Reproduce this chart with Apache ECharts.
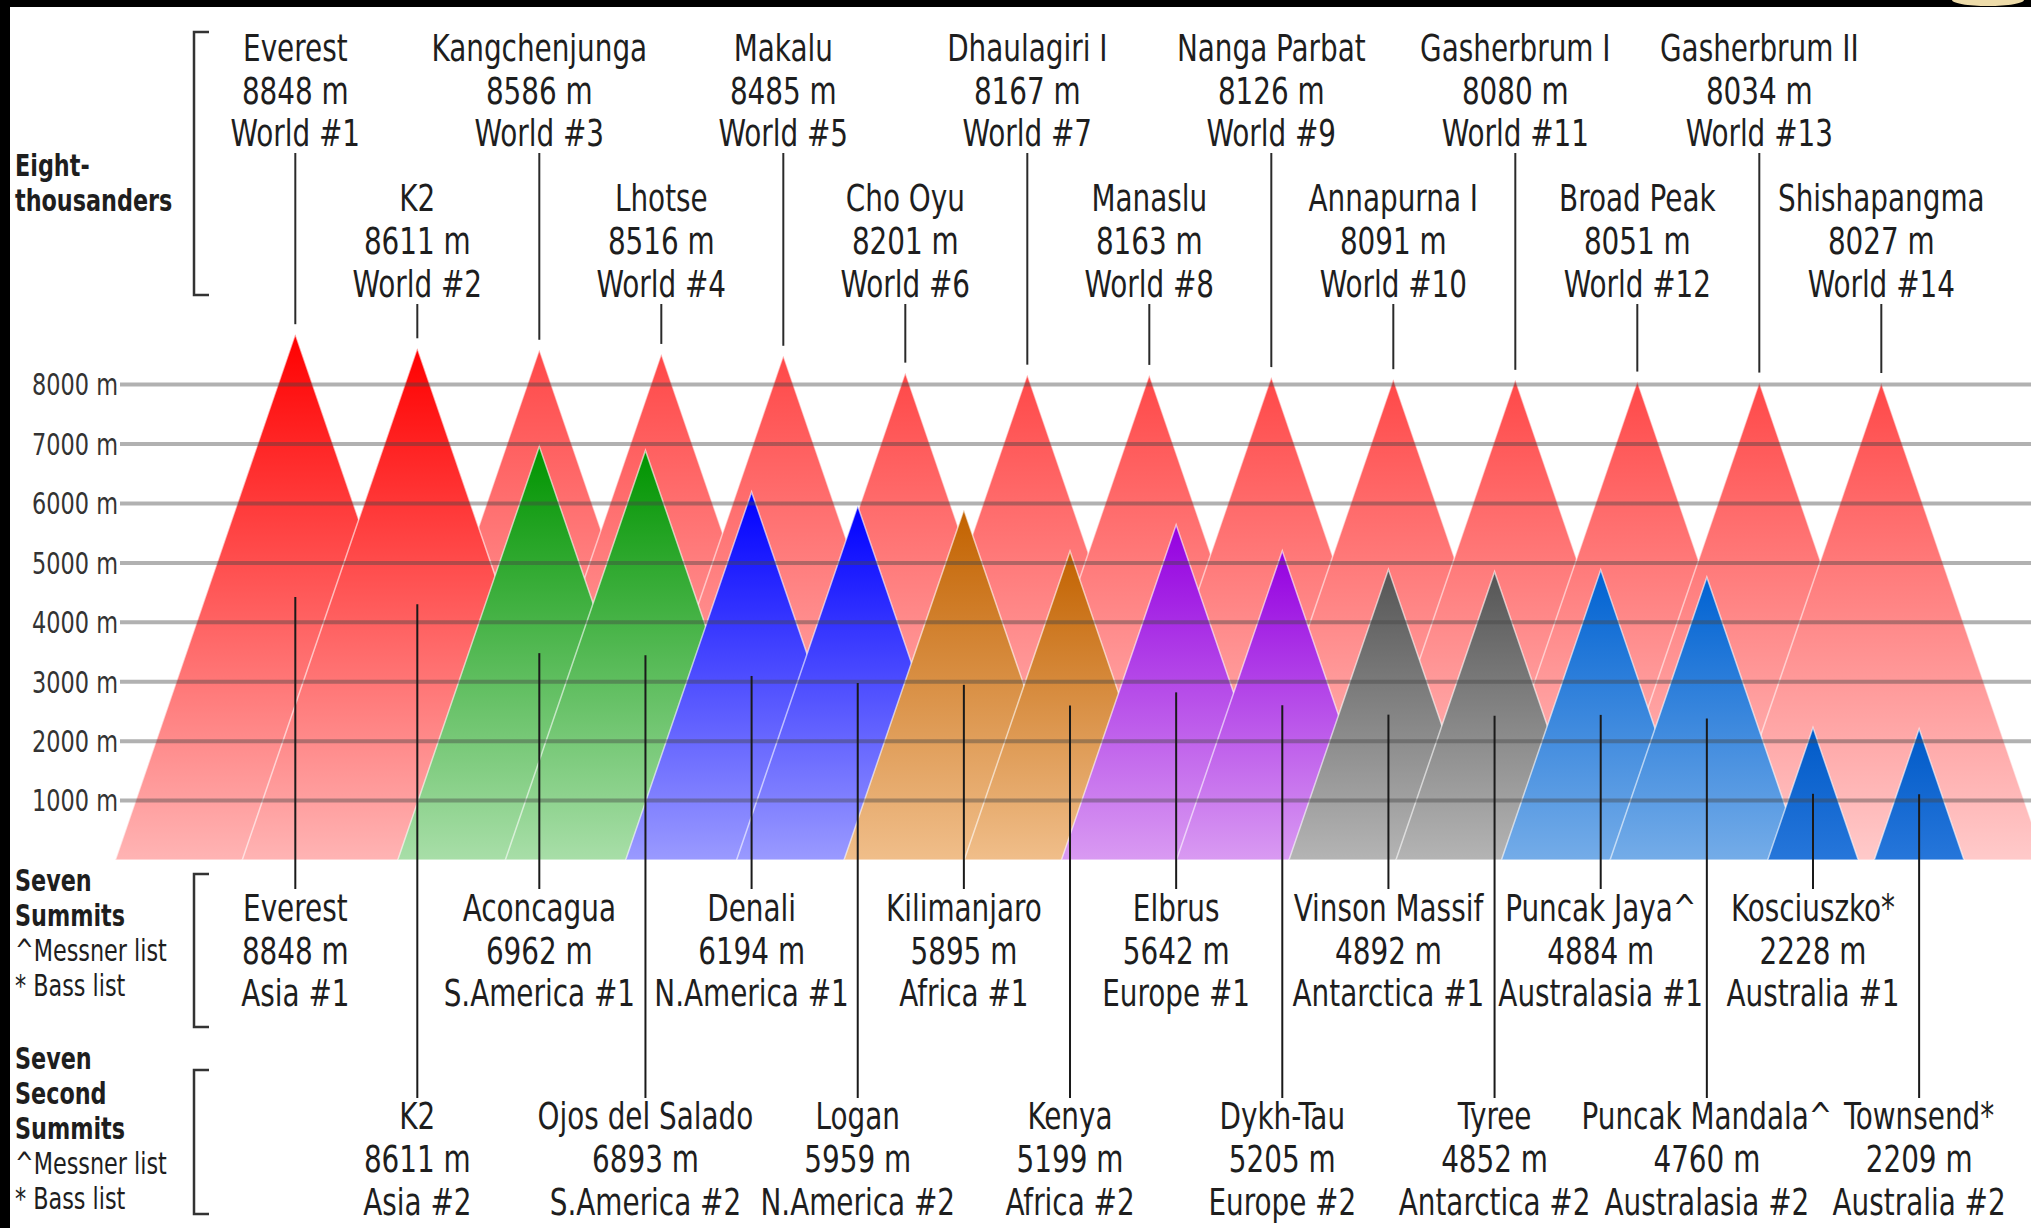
<!DOCTYPE html>
<html><head><meta charset="utf-8">
<script src="https://cdn.jsdelivr.net/npm/echarts@6/dist/echarts.min.js"></script>
<style>html,body{margin:0;padding:0;background:#fff;overflow:hidden}#c{width:2031px;height:1228px;}</style>
</head><body><div id="c"></div>
<script>
// ---------------- data ----------------
const eightNames = ['Everest','K2','Kangchenjunga','Lhotse','Makalu','Cho Oyu','Dhaulagiri I','Manaslu','Nanga Parbat','Annapurna I','Gasherbrum I','Broad Peak','Gasherbrum II','Shishapangma'];
const eightHeights = [8848,8611,8586,8516,8485,8201,8167,8163,8126,8091,8080,8051,8034,8027];
const eightRanks = [1,2,3,4,5,6,7,8,9,10,11,12,13,14];

const summitNames = ['Everest','K2','Aconcagua','Ojos del Salado','Denali','Logan','Kilimanjaro','Kenya','Elbrus','Dykh-Tau','Vinson Massif','Tyree','Puncak Jaya^','Puncak Mandala^','Kosciuszko*','Townsend*'];
const summitHeights = [8848,8611,6962,6893,6194,5959,5895,5199,5642,5205,4892,4852,4884,4760,2228,2209];
const summitRegions = ['Asia','Asia','S.America','S.America','N.America','N.America','Africa','Africa','Europe','Europe','Antarctica','Antarctica','Australasia','Australasia','Australia','Australia'];
const summitRanks = [1,2,1,2,1,2,1,2,1,2,1,2,1,2,1,2];

const yTicks = [1000,2000,3000,4000,5000,6000,7000,8000];

const titleEight = ['Eight-','thousanders'];
const titleSeven = ['Seven','Summits'];
const titleSecond = ['Seven','Second','Summits'];
const listNotes = ['^Messner list','* Bass list'];

// ---------------- styles / layout ----------------
const FONT = "'DejaVu Sans Condensed','DejaVu Sans',sans-serif";
const TXT = '#1e1e1e';
const X_MIN = -0.437, X_MAX = 15.227;
const HALF_W = 1 / 6000;          // half base width (x units) per metre
const regionColors = {
  'Asia': ['#ff0000', '#ffb4b4'],
  'S.America': ['#009400', '#a8dea8'],
  'N.America': ['#0000ff', '#9a9aff'],
  'Africa': ['#c26200', '#f0be8a'],
  'Europe': ['#9400e0', '#d99af2'],
  'Antarctica': ['#555555', '#b4b4b4'],
  'Australasia': ['#0062d2', '#74ace8'],
  'Australia': ['#005ac8', '#2676da']
};
const eightColor = ['#ff4848', '#ffcaca'];
const TOP_CENTER = [90.6, 241], TOP_LEAD = [153, 304];
const BOT_CENTER = [950.5, 1159], BOT_LEAD = [889, 1098];
const LABEL_FS = 38, LABEL_SX = 0.815;

function eightPos(i) { return i + 1; }
function summitPos(i) { return i < 3 ? i + 1 : 3 + (i - 2) * 0.87; }
const regionList = Object.keys(regionColors);

function grad(c) {
  return new echarts.graphic.LinearGradient(0, 0, 0, 1, [{offset: 0, color: c[0]}, {offset: 1, color: c[1]}]);
}
function tri(api, x, h) {
  const a = api.coord([x, h]), l = api.coord([x - h * HALF_W, 0]), r = api.coord([x + h * HALF_W, 0]);
  return [l, a, r];
}

const eightData = eightHeights.map((h, i) => [eightPos(i), h, i % 2, i]);
const summitData = summitHeights.map((h, i) => [summitPos(i), h, i % 2, i, regionList.indexOf(summitRegions[i])]);

const chart = echarts.init(document.getElementById('c'), null, {renderer: 'svg', width: 2031, height: 1228});

const graphics = [];
graphics.push({type: 'rect', shape: {x: 0, y: 0, width: 2031, height: 7}, style: {fill: '#000'}, z: 100});
graphics.push({type: 'rect', shape: {x: 0, y: 0, width: 10, height: 1228}, style: {fill: '#000'}, z: 100});
graphics.push({type: 'ellipse', shape: {cx: 1988, cy: 0, rx: 36, ry: 6}, style: {fill: '#eedcaa'}, z: 101});
function addLines(lines, y0, boldCount) {
  lines.forEach((t, k) => {
    graphics.push({type: 'text', x: 15, y: y0 + k * 35, z: 50, scaleX: 0.8,
      style: {text: t, fill: TXT, fontFamily: FONT, fontSize: 31, fontWeight: k < boldCount ? 'bold' : 'normal', verticalAlign: 'middle', align: 'left'}});
  });
}
addLines(titleEight, 166, 2);
addLines(titleSeven.concat(listNotes), 880.6, 2);
addLines(titleSecond.concat(listNotes), 1059, 3);
function bracket(y1, y2) {
  graphics.push({type: 'polyline', z: 50, shape: {points: [[209, y1], [194, y1], [194, y2], [209, y2]]}, style: {stroke: '#333', lineWidth: 2.5, fill: null}});
}
bracket(32, 295); bracket(874, 1027); bracket(1070, 1214);

const option = {
  animation: false,
  backgroundColor: '#fff',
  grid: {left: 120, right: 0, top: 384.6, bottom: 368},
  xAxis: {type: 'value', min: X_MIN, max: X_MAX, show: false},
  yAxis: {type: 'value', min: 0, max: 8000, interval: 1000,
    axisLine: {show: false}, axisTick: {show: false}, splitLine: {show: false}, axisLabel: {show: false}},
  graphic: graphics,
  series: [
    { // eight-thousanders (background)
      type: 'custom', z: 1, clip: false, data: eightData,
      renderItem: (p, api) => ({type: 'polygon', shape: {points: tri(api, api.value(0), api.value(1))},
        style: {fill: grad(eightColor), stroke: 'rgba(255,255,255,0.55)', lineWidth: 1.5}})
    },
    { // seven summits / second summits
      type: 'custom', z: 2, clip: false, data: summitData,
      renderItem: (p, api) => ({type: 'polygon', shape: {points: tri(api, api.value(0), api.value(1))},
        style: {fill: grad(regionColors[regionList[api.value(4)]]), stroke: 'rgba(255,255,255,0.6)', lineWidth: 1.5}})
    },
    { // gridlines drawn over the peaks, with their tick labels
      type: 'custom', z: 3, clip: false, data: yTicks.map(v => [v]),
      renderItem: (p, api) => {
        const v = api.value(0);
        const a = api.coord([X_MIN, v]), b = api.coord([X_MAX, v]);
        return {type: 'group', children: [
          {type: 'line', shape: {x1: a[0], y1: a[1], x2: b[0], y2: b[1]}, style: {stroke: 'rgba(70,70,70,0.42)', lineWidth: 4}},
          {type: 'text', x: a[0] - 2, y: a[1], scaleX: 0.83, style: {text: v + ' m', fill: '#333', fontFamily: FONT, fontSize: 30, align: 'right', verticalAlign: 'middle'}}
        ]};
      }
    },
    { // eight-thousander labels
      type: 'custom', z: 4, clip: false, data: eightData,
      renderItem: (p, api) => {
        const i = api.value(3), row = api.value(2);
        const a = api.coord([api.value(0), api.value(1)]);
        return {type: 'group', children: [
          {type: 'line', shape: {x1: a[0], y1: TOP_LEAD[row], x2: a[0], y2: a[1] - 10}, style: {stroke: '#2a2a2a', lineWidth: 2}},
          {type: 'text', x: a[0], y: TOP_CENTER[row], scaleX: LABEL_SX, style: {text: eightNames[i] + '\n' + eightHeights[i] + ' m\nWorld #' + eightRanks[i],
            fill: TXT, fontFamily: FONT, fontSize: LABEL_FS, lineHeight: 42.7, align: 'center', verticalAlign: 'middle'}}
        ]};
      }
    },
    { // summit labels
      type: 'custom', z: 4, clip: false, data: summitData,
      renderItem: (p, api) => {
        const i = api.value(3), row = api.value(2), h = api.value(1);
        const m = api.coord([api.value(0), h / 2]);
        return {type: 'group', children: [
          {type: 'line', shape: {x1: m[0], y1: m[1], x2: m[0], y2: BOT_LEAD[row]}, style: {stroke: '#1a1a1a', lineWidth: 2}},
          {type: 'text', x: m[0], y: BOT_CENTER[row], scaleX: LABEL_SX, style: {text: summitNames[i] + '\n' + summitHeights[i] + ' m\n' + summitRegions[i] + ' #' + summitRanks[i],
            fill: TXT, fontFamily: FONT, fontSize: LABEL_FS, lineHeight: 42.7, align: 'center', verticalAlign: 'middle'}}
        ]};
      }
    }
  ]
};
chart.setOption(option);
</script>
</body></html>
